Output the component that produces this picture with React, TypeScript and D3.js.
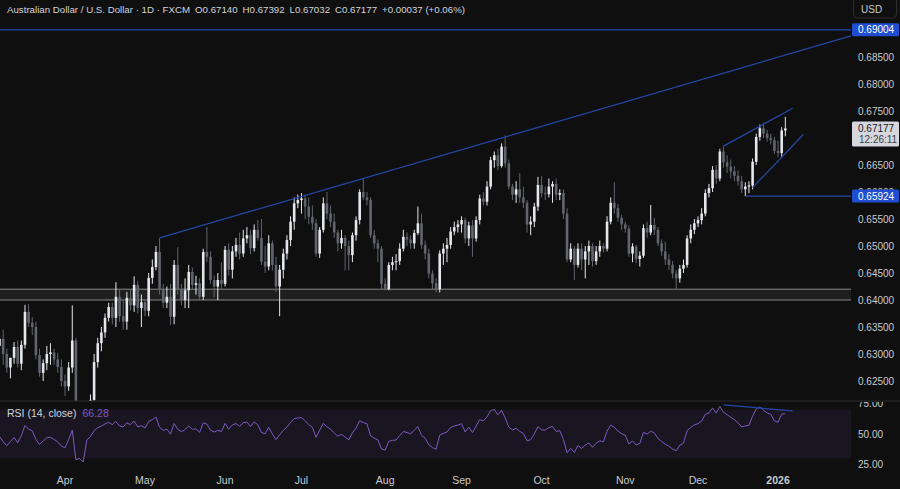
import * as d3 from "d3";
import { useMemo } from "react";

type Bar = [number, number, number, number]; // open, high, low, close

// AUD/USD daily candles, FXCM
const mar2025: Bar[] = [
  [0.6315, 0.6335, 0.629, 0.6328], [0.6328, 0.6345, 0.628, 0.63], [0.63, 0.631, 0.6265, 0.6275],
  [0.6275, 0.6292, 0.6255, 0.6293], [0.6293, 0.6322, 0.6282, 0.6313], [0.6313, 0.6325, 0.6275, 0.6282],
  [0.6282, 0.6325, 0.627, 0.6317], [0.6317, 0.6391, 0.631, 0.6378], [0.6378, 0.6392, 0.635, 0.6358],
  [0.6358, 0.6368, 0.6335, 0.635], [0.635, 0.636, 0.629, 0.6298], [0.6298, 0.631, 0.6258, 0.6265],
  [0.6265, 0.629, 0.625, 0.6283], [0.6283, 0.6315, 0.627, 0.63], [0.63, 0.632, 0.628, 0.6303],
  [0.6303, 0.631, 0.628, 0.629], [0.629, 0.6302, 0.6265, 0.6276], [0.6276, 0.629, 0.624, 0.625],
];
const apr2025: Bar[] = [
  [0.625, 0.6262, 0.6222, 0.624], [0.624, 0.6285, 0.6232, 0.6275], [0.6275, 0.639, 0.6265, 0.6325],
  [0.6325, 0.633, 0.603, 0.605], [0.605, 0.61, 0.5915, 0.606], [0.606, 0.615, 0.599, 0.6],
  [0.6, 0.621, 0.5915, 0.618], [0.618, 0.6225, 0.613, 0.6215], [0.6215, 0.63, 0.619, 0.6285],
  [0.6285, 0.633, 0.6275, 0.632], [0.632, 0.635, 0.6305, 0.634], [0.634, 0.6375, 0.633, 0.6367],
  [0.6367, 0.6395, 0.636, 0.6387], [0.6387, 0.6395, 0.6355, 0.6367], [0.6367, 0.6433, 0.635, 0.6406],
  [0.6406, 0.642, 0.636, 0.637], [0.637, 0.64, 0.6345, 0.636], [0.636, 0.6415, 0.6345, 0.6404],
  [0.6404, 0.642, 0.638, 0.639], [0.639, 0.6444, 0.6378, 0.6428], [0.6428, 0.6435, 0.6375, 0.6385],
  [0.6385, 0.641, 0.635, 0.6396],
];
const may2025: Bar[] = [
  [0.6396, 0.64, 0.637, 0.638], [0.638, 0.645, 0.637, 0.6441], [0.6441, 0.6475, 0.643, 0.6461],
  [0.6461, 0.65, 0.6455, 0.6489], [0.6489, 0.6515, 0.641, 0.6419], [0.6419, 0.643, 0.6385, 0.6395],
  [0.6395, 0.6425, 0.6385, 0.6406], [0.6406, 0.643, 0.6354, 0.6369], [0.6369, 0.6474, 0.6355, 0.6465],
  [0.6465, 0.6498, 0.641, 0.6419], [0.6419, 0.643, 0.639, 0.64], [0.64, 0.644, 0.6385, 0.6418],
  [0.6418, 0.6465, 0.6385, 0.6452], [0.6452, 0.646, 0.642, 0.6428], [0.6428, 0.6445, 0.641, 0.6431],
  [0.6431, 0.644, 0.64, 0.6406], [0.6406, 0.6495, 0.64, 0.6489], [0.6489, 0.6535, 0.647, 0.648],
  [0.648, 0.649, 0.643, 0.6437], [0.6437, 0.6445, 0.6405, 0.6425], [0.6425, 0.645, 0.64, 0.6437],
  [0.6437, 0.647, 0.642, 0.643],
];
const jun2025: Bar[] = [
  [0.643, 0.65, 0.6425, 0.6493], [0.6493, 0.6505, 0.6445, 0.6456], [0.6456, 0.65, 0.644, 0.649],
  [0.649, 0.6515, 0.648, 0.6502], [0.6502, 0.6525, 0.6475, 0.6486], [0.6486, 0.653, 0.648, 0.6514],
  [0.6514, 0.6535, 0.6505, 0.652], [0.652, 0.653, 0.6485, 0.6496], [0.6496, 0.654, 0.649, 0.653],
  [0.653, 0.6548, 0.651, 0.6515], [0.6515, 0.655, 0.6465, 0.6471], [0.6471, 0.65, 0.645, 0.6462],
  [0.6462, 0.652, 0.6455, 0.6505], [0.6505, 0.651, 0.6455, 0.6465], [0.6465, 0.648, 0.6415, 0.6425],
  [0.6425, 0.6465, 0.637, 0.6456], [0.6456, 0.6495, 0.644, 0.6486], [0.6486, 0.652, 0.6475, 0.6511],
  [0.6511, 0.6555, 0.65, 0.6545], [0.6545, 0.659, 0.653, 0.6579], [0.6579, 0.6595, 0.657, 0.6585],
];
const jul2025: Bar[] = [
  [0.6585, 0.6598, 0.656, 0.6588], [0.6588, 0.6595, 0.655, 0.6573], [0.6573, 0.659, 0.654, 0.6554],
  [0.6554, 0.6575, 0.653, 0.6542], [0.6542, 0.655, 0.648, 0.6486], [0.6486, 0.6535, 0.6478, 0.653],
  [0.653, 0.659, 0.6525, 0.6579], [0.6579, 0.66, 0.655, 0.656], [0.656, 0.6575, 0.6535, 0.6545],
  [0.6545, 0.656, 0.6515, 0.6525], [0.6525, 0.653, 0.649, 0.6505], [0.6505, 0.653, 0.6495, 0.6515],
  [0.6515, 0.652, 0.6455, 0.65], [0.65, 0.651, 0.6455, 0.6483], [0.6483, 0.6525, 0.647, 0.652],
  [0.652, 0.6555, 0.651, 0.6548], [0.6548, 0.6605, 0.654, 0.66], [0.66, 0.6625, 0.6585, 0.659],
  [0.659, 0.66, 0.6575, 0.6585], [0.6585, 0.659, 0.6515, 0.652], [0.652, 0.653, 0.6495, 0.6505],
  [0.6505, 0.6512, 0.647, 0.6495], [0.6495, 0.65, 0.642, 0.643],
];
const aug2025: Bar[] = [
  [0.643, 0.644, 0.6418, 0.642], [0.642, 0.647, 0.6418, 0.6465], [0.6465, 0.648, 0.6455, 0.647],
  [0.647, 0.6485, 0.6455, 0.6472], [0.6472, 0.6505, 0.6465, 0.6495], [0.6495, 0.653, 0.649, 0.6517],
  [0.6517, 0.6525, 0.65, 0.6512], [0.6512, 0.652, 0.6495, 0.6505], [0.6505, 0.653, 0.6495, 0.6524],
  [0.6524, 0.6573, 0.652, 0.6542], [0.6542, 0.656, 0.6495, 0.6502], [0.6502, 0.651, 0.6475, 0.6486],
  [0.6486, 0.6495, 0.644, 0.6449], [0.6449, 0.6455, 0.642, 0.6431], [0.6431, 0.644, 0.6414, 0.642],
  [0.642, 0.6492, 0.6414, 0.6486], [0.6486, 0.6505, 0.6465, 0.6495], [0.6495, 0.6515, 0.647, 0.6502],
  [0.6502, 0.6535, 0.6495, 0.6527], [0.6527, 0.6545, 0.652, 0.6535], [0.6535, 0.6548, 0.6525, 0.654],
];
const sep2025: Bar[] = [
  [0.654, 0.6555, 0.6525, 0.6548], [0.6548, 0.6552, 0.6505, 0.6514], [0.6514, 0.6545, 0.65, 0.6538],
  [0.6538, 0.6548, 0.648, 0.6514], [0.6514, 0.6555, 0.6508, 0.6548], [0.6548, 0.6595, 0.654, 0.6588],
  [0.6588, 0.66, 0.6575, 0.6582], [0.6582, 0.662, 0.6575, 0.661], [0.661, 0.6665, 0.6605, 0.6659],
  [0.6659, 0.6675, 0.6645, 0.6668], [0.6668, 0.668, 0.664, 0.6648], [0.6648, 0.669, 0.6645, 0.6684],
  [0.6684, 0.6705, 0.6645, 0.6653], [0.6653, 0.666, 0.6605, 0.661], [0.661, 0.6615, 0.6585, 0.6595],
  [0.6595, 0.662, 0.658, 0.6605], [0.6605, 0.6635, 0.658, 0.659], [0.659, 0.661, 0.657, 0.658],
  [0.658, 0.6585, 0.6525, 0.654], [0.654, 0.6555, 0.652, 0.6545], [0.6545, 0.658, 0.6535, 0.6573],
  [0.6573, 0.6628, 0.6565, 0.6613],
];
const oct2025: Bar[] = [
  [0.6613, 0.663, 0.659, 0.6598], [0.6598, 0.661, 0.6585, 0.6596], [0.6596, 0.6625, 0.659, 0.661],
  [0.661, 0.662, 0.658, 0.6615], [0.6615, 0.6625, 0.6585, 0.6595], [0.6595, 0.6605, 0.6585, 0.6598],
  [0.6598, 0.6605, 0.655, 0.656], [0.656, 0.657, 0.647, 0.6475], [0.6475, 0.6505, 0.647, 0.6495],
  [0.6495, 0.65, 0.6437, 0.6465], [0.6465, 0.6505, 0.646, 0.6495], [0.6495, 0.6505, 0.6455, 0.6475],
  [0.6475, 0.65, 0.644, 0.649], [0.649, 0.651, 0.6465, 0.65], [0.65, 0.6505, 0.6462, 0.6472],
  [0.6472, 0.65, 0.6465, 0.649], [0.649, 0.651, 0.648, 0.65], [0.65, 0.6505, 0.6488, 0.6495],
  [0.6495, 0.6555, 0.649, 0.6545], [0.6545, 0.659, 0.654, 0.658], [0.658, 0.6618, 0.656, 0.657],
  [0.657, 0.6578, 0.6545, 0.6552], [0.6552, 0.6558, 0.653, 0.654],
];
const nov2025: Bar[] = [
  [0.654, 0.6545, 0.6525, 0.6532], [0.6532, 0.6538, 0.648, 0.6486], [0.6486, 0.6505, 0.647, 0.6499],
  [0.6499, 0.6502, 0.6468, 0.6476], [0.6476, 0.649, 0.6462, 0.6482], [0.6482, 0.654, 0.6478, 0.6533],
  [0.6533, 0.6545, 0.6515, 0.6525], [0.6525, 0.6576, 0.652, 0.6539], [0.6539, 0.6552, 0.652, 0.653],
  [0.653, 0.6535, 0.65, 0.6505], [0.6505, 0.6512, 0.6482, 0.649], [0.649, 0.6508, 0.6465, 0.6475],
  [0.6475, 0.6485, 0.6455, 0.6465], [0.6465, 0.6472, 0.644, 0.6449], [0.6449, 0.6455, 0.642, 0.644],
  [0.644, 0.6465, 0.6432, 0.6458], [0.6458, 0.6475, 0.645, 0.6465], [0.6465, 0.652, 0.646, 0.6514],
  [0.6514, 0.654, 0.6505, 0.653], [0.653, 0.655, 0.6522, 0.6542],
];
const dec2025: Bar[] = [
  [0.6542, 0.6555, 0.6535, 0.6548], [0.6548, 0.657, 0.654, 0.656], [0.656, 0.6605, 0.6555, 0.6598],
  [0.6598, 0.6615, 0.659, 0.6607], [0.6607, 0.6648, 0.66, 0.6641], [0.6641, 0.665, 0.6615, 0.6625],
  [0.6625, 0.668, 0.662, 0.6675], [0.6675, 0.6685, 0.6645, 0.6655], [0.6655, 0.6668, 0.6635, 0.6647],
  [0.6647, 0.666, 0.6625, 0.6638], [0.6638, 0.6648, 0.662, 0.663], [0.663, 0.664, 0.6612, 0.662],
  [0.662, 0.663, 0.6598, 0.6605], [0.6605, 0.6618, 0.65924, 0.661], [0.661, 0.662, 0.6598, 0.6612],
  [0.6612, 0.6662, 0.6605, 0.6656], [0.6656, 0.6708, 0.665, 0.6702], [0.6702, 0.6725, 0.6695, 0.6718],
  [0.6718, 0.6728, 0.67, 0.6708], [0.6708, 0.6715, 0.6693, 0.67], [0.67, 0.6708, 0.6688, 0.6696],
  [0.6696, 0.6702, 0.667, 0.6676],
];
const jan2026: Bar[] = [
  [0.6676, 0.6695, 0.6665, 0.6672], [0.6672, 0.672, 0.6664, 0.6714], [0.6714, 0.67392, 0.67032, 0.67177],
];

const candles: Bar[] = [
  ...mar2025, ...apr2025, ...may2025, ...jun2025, ...jul2025, ...aug2025,
  ...sep2025, ...oct2025, ...nov2025, ...dec2025, ...jan2026,
];

const firstSession = new Date(2025, 2, 6);
const holidays = ["2025-12-25", "2026-01-01"];

// 0.67000 and 0.69000 sit under the price labels and are not shown
const priceTicks = [0.625, 0.63, 0.635, 0.64, 0.645, 0.65, 0.655, 0.66, 0.665, 0.675, 0.68, 0.685];
const rsiTicks = [75, 50, 25];

// drawings: [bar index, value]
const risingLine = [[44, 0.6515], [139, 0.6702]];
const wedgeTop = [[199, 0.6685], [218, 0.6755]];
const wedgeBottom = [[207, 0.6608], [221, 0.6707]];
const rsiDivergence = [[199, 73.8], [218, 68.9]];
const resistance = 0.69004;
const support = 0.65924;
const supportFrom = 205;
const zone = [0.64, 0.642];

const rsiSeed = [0.0011, 0.0012]; // avg gain / avg loss carried in from earlier history
const header = ["O0.67140", "H0.67392", "L0.67032", "C0.67177", "+0.00037 (+0.06%)"];
const lastPrice = 0.67177;
const lastRsi = "66.28";
const countdown = "12:26:11";

const W = 900;
const H = 489;
const plotR = 851;
const paneDiv = 401;
const font = "'Liberation Sans', Arial, sans-serif";
const upCol = "#e6e7ec";
const downCol = "#62656f";
const blue = "#2548a8";

const fmt = d3.format(".5f");

export default function App() {
  const x = d3.scaleLinear().domain([0, 216]).range([-0.48, 785.33]);
  const y = d3.scaleLinear().domain([0.64, 0.69]).range([300, 30]);
  const yR = d3.scaleLinear().domain([25, 75]).range([464.5, 403.5]);

  const dates = useMemo(() => {
    const out: Date[] = [];
    let d = new Date(firstSession);
    while (out.length < candles.length) {
      const key = d3.timeFormat("%Y-%m-%d")(d);
      if (d.getDay() !== 0 && d.getDay() !== 6 && !holidays.includes(key)) out.push(new Date(d));
      d = d3.timeDay.offset(d, 1);
    }
    return out;
  }, []);

  const monthTicks = dates
    .map((d, i) => ({ d, i }))
    .filter(({ d, i }) => i > 0 && d.getMonth() !== dates[i - 1].getMonth());

  // RSI(14) on closes, Wilder smoothing
  const rsi = useMemo(() => {
    let g = rsiSeed[0];
    let l = rsiSeed[1];
    const out = [100 - 100 / (1 + g / l)];
    for (let i = 1; i < candles.length; i++) {
      const ch = candles[i][3] - candles[i - 1][3];
      g = (g * 13 + Math.max(ch, 0)) / 14;
      l = (l * 13 + Math.max(-ch, 0)) / 14;
      out.push(100 - 100 / (1 + g / l));
    }
    return out;
  }, []);

  const rsiPath = d3.line<number>().x((_, i) => x(i)).y((v) => yR(v))(rsi) || "";

  const iEdge = x.invert(plotR);
  const extend = (pts: number[][], sc: (v: number) => number) => {
    const [[i0, v0], [i1, v1]] = pts;
    const k = (v1 - v0) / (i1 - i0);
    return { x1: x(i0), y1: sc(v0), x2: x(iEdge), y2: sc(v0 + k * (iEdge - i0)) };
  };
  const seg = (pts: number[][], sc: (v: number) => number) => ({
    x1: x(pts[0][0]), y1: sc(pts[0][1]), x2: x(pts[1][0]), y2: sc(pts[1][1]),
  });

  const bw = 2.6;
  const axisX = 858;

  return (
    <svg width={W} height={H} style={{ position: "fixed", left: 0, top: 0, background: "#0f0f0f" }} fontFamily={font}>
      <defs>
        <clipPath id="pricePane"><rect x={0} y={0} width={plotR} height={paneDiv} /></clipPath>
        <clipPath id="rsiPane"><rect x={0} y={paneDiv + 1} width={plotR} height={72} /></clipPath>
        <clipPath id="rsiAxis"><rect x={plotR} y={paneDiv + 1} width={W - plotR} height={72} /></clipPath>
      </defs>
      <rect width={W} height={H} fill="#0f0f0f" />

      <g clipPath="url(#pricePane)">
        <rect x={0} y={y(zone[1])} width={plotR} height={y(zone[0]) - y(zone[1])} fill="rgba(255,255,255,0.07)" />
        <line x1={0} x2={plotR} y1={y(zone[1])} y2={y(zone[1])} stroke="#888888" strokeWidth={1} />
        <line x1={0} x2={plotR} y1={y(zone[0])} y2={y(zone[0])} stroke="#888888" strokeWidth={1} />

        {candles.map(([o, h, l, c], i) => {
          const col = c >= o ? upCol : downCol;
          const top = y(Math.max(o, c));
          const bh = Math.max(1, y(Math.min(o, c)) - top);
          return (
            <g key={i}>
              <line x1={x(i)} x2={x(i)} y1={y(h)} y2={y(l)} stroke={col} strokeWidth={1} />
              <rect x={x(i) - bw / 2} y={top} width={bw} height={bh} fill={col} />
            </g>
          );
        })}

        <line x1={0} x2={plotR} y1={y(resistance)} y2={y(resistance)} stroke={blue} strokeWidth={1.2} />
        <line {...extend(risingLine, y)} stroke={blue} strokeWidth={1.2} />
        <line {...seg(wedgeTop, y)} stroke={blue} strokeWidth={1.2} />
        <line {...seg(wedgeBottom, y)} stroke={blue} strokeWidth={1.2} />
        <line x1={x(supportFrom)} x2={plotR} y1={y(support)} y2={y(support)} stroke={blue} strokeWidth={1.2} />
      </g>

      <line x1={0} x2={W} y1={paneDiv} y2={paneDiv} stroke="#2c2c2c" strokeWidth={1} />

      <g clipPath="url(#rsiPane)">
        <rect x={0} y={yR(70)} width={plotR} height={yR(30) - yR(70)} fill="rgba(126,87,194,0.1)" />
        <path d={rsiPath} fill="none" stroke="#7e57c2" strokeWidth={1} />
        <line {...seg(rsiDivergence, yR)} stroke={blue} strokeWidth={1.2} />
      </g>

      {/* price axis */}
      <g fontSize={10} fill="#c9cbd1">
        {priceTicks.map((p) => (
          <text key={p} x={axisX} y={y(p)} dy="0.35em">{fmt(p)}</text>
        ))}
      </g>
      <g clipPath="url(#rsiAxis)" fontSize={10} fill="#c9cbd1">
        {rsiTicks.map((v) => (
          <text key={v} x={axisX} y={yR(v)} dy="0.35em">{v.toFixed(2)}</text>
        ))}
      </g>

      {[resistance, support].map((p) => (
        <g key={p}>
          <rect x={plotR + 1} y={y(p) - 6.5} width={W - plotR - 2} height={13} rx={1.5} fill="#1f4ed1" />
          <text x={axisX} y={y(p)} dy="0.35em" fontSize={10} fill="#ffffff">{fmt(p)}</text>
        </g>
      ))}
      <rect x={plotR + 1} y={y(lastPrice) - 7} width={W - plotR - 2} height={25} rx={1.5} fill="#d5d7dd" />
      <text x={axisX} y={y(lastPrice)} dy="0.35em" fontSize={10} fill="#131722">{fmt(lastPrice)}</text>
      <text x={axisX + 1} y={y(lastPrice) + 11} dy="0.35em" fontSize={10} fill="#3a3d47">{countdown}</text>

      <rect x={853.5} y={-3} width={43} height={21} rx={4} fill="none" stroke="#2e2e2e" />
      <text x={861} y={12.5} fontSize={10} fill="#c9cbd1">USD</text>

      {/* time axis */}
      <g fontSize={10.5} fill="#c9cbd1" textAnchor="middle">
        {monthTicks.map(({ d, i }) => (
          <text key={i} x={x(i)} y={484} fontWeight={d.getMonth() === 0 ? "bold" : "normal"}>
            {d.getMonth() === 0 ? d3.timeFormat("%Y")(d) : d3.timeFormat("%b")(d)}
          </text>
        ))}
      </g>

      {/* legends */}
      <text x={7} y={13} fontSize={9.7} fill="#d1d4dc">
        <tspan>Australian Dollar / U.S. Dollar · 1D · FXCM</tspan>
        {header.map((t) => (
          <tspan key={t} dx={5}>{t}</tspan>
        ))}
      </text>
      <text x={7} y={417} fontSize={10.5} fill="#d1d4dc">
        <tspan>RSI (14, close)</tspan>
        <tspan dx={6} fill="#7e57c2">{lastRsi}</tspan>
      </text>
    </svg>
  );
}
